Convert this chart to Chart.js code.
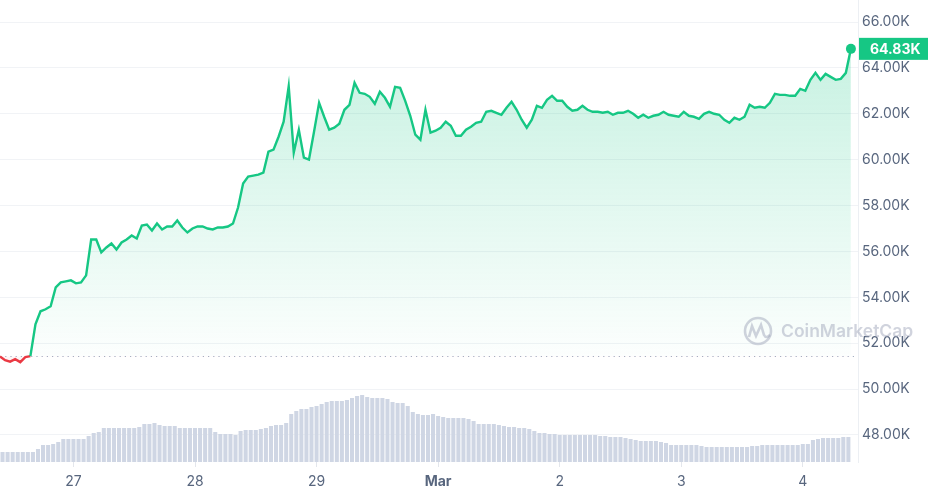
<!DOCTYPE html>
<html>
<head>
<meta charset="utf-8">
<title>BTC 7D</title>
<script src="https://cdn.jsdelivr.net/npm/chart.js@4.4.1/dist/chart.umd.min.js"></script>
<style>
    html, body { margin: 0; padding: 0; background: #fff; }
    #wrap { width: 928px; height: 495px; }
</style>
</head>
<body>
<div id="wrap"><canvas id="priceChart" width="928" height="495"></canvas></div>
<script>
// hours are counted from Feb 27 00:00, one point per hour
const startHour = -14.5;
const volStartHour = -14;
const dayTicks = [0, 24, 48, 72, 96, 120, 144];
const dayLabels = ['27', '28', '29', 'Mar', '2', '3', '4'];
const priceTicks = [48000, 50000, 52000, 54000, 56000, 58000, 60000, 62000, 64000, 66000];

const prices = [
    51422, 51261, 51196, 51305, 51175, 51392, 51435, 52827, 53392, 53479,
    53609, 54435, 54653, 54696, 54740, 54609, 54653, 54957, 56522, 56522,
    55957, 56174, 56348, 56087, 56392, 56522, 56696, 56566, 57131, 57174,
    56913, 57218, 56957, 57087, 57087, 57348, 57044, 56826, 57000, 57087,
    57087, 57000, 56957, 57044, 57044, 57087, 57218, 57914, 58957, 59261,
    59305, 59348, 59435, 60348, 60435, 61000, 61653, 63200, 60305, 61305,
    60087, 60000, 61218, 62479, 61870, 61305, 61392, 61566, 62174, 62392,
    63348, 62914, 62870, 62740, 62435, 62957, 62696, 62305, 63174, 63131,
    62566, 61913, 61087, 60870, 62174, 61174, 61261, 61392, 61653, 61478,
    61044, 61044, 61305, 61435, 61609, 61653, 62087, 62131, 62044, 61957,
    62261, 62522, 62174, 61739, 61392, 61739, 62348, 62261, 62609, 62783,
    62566, 62566, 62305, 62131, 62174, 62348, 62174, 62087, 62087, 62044,
    62087, 61957, 62044, 62044, 62131, 62000, 61826, 61957, 61826, 61913,
    61957, 62087, 61957, 61913, 61870, 62087, 61913, 61870, 61783, 62000,
    62087, 62000, 61957, 61739, 61609, 61826, 61739, 61870, 62392, 62261,
    62305, 62261, 62479, 62870, 62826, 62826, 62783, 62783, 63087, 63000,
    63479, 63783, 63479, 63740, 63609, 63479, 63522, 63783, 64830
];

// rolling 24h volume, relative units
const volumes = [
    10, 10, 10, 10, 10, 10, 10, 13, 17, 17,
    18, 20, 23, 23, 23, 23, 23, 26, 29, 30,
    34, 34, 34, 34, 34, 34, 34, 35, 38, 38,
    39, 37, 36, 36, 36, 34, 34, 34, 34, 34,
    34, 34, 30, 28, 28, 28, 27, 31, 32, 32,
    32, 33, 34, 36, 37, 37, 39, 48, 51, 53,
    53, 55, 56, 58, 60, 61, 61, 61, 62, 64,
    66, 67, 65, 64, 64, 64, 63, 60, 59, 59,
    56, 50, 48, 47, 47, 48, 46, 45, 44, 44,
    44, 44, 43, 41, 38, 38, 38, 38, 37, 36,
    35, 35, 34, 34, 33, 31, 29, 29, 28, 28,
    27, 27, 27, 27, 27, 27, 27, 27, 26, 26,
    25, 25, 25, 24, 23, 22, 21, 21, 21, 21,
    20, 19, 17, 17, 17, 17, 17, 17, 16, 15,
    15, 15, 15, 15, 15, 15, 15, 15, 16, 16,
    17, 17, 17, 17, 17, 17, 17, 17, 18, 18,
    22, 23, 24, 24, 24, 24, 25, 25
];

document.addEventListener('DOMContentLoaded', function() {
    const green = '#16c784';
    const red = '#ea3943';
    const baseline = prices[0];
    const lastPrice = prices[prices.length - 1];
    const xMin = startHour;
    const xMax = 154.9;

    const priceData = prices.map((p, i) => ({ x: startHour + i, y: p }));
    const volData = volumes.map((v, i) => ({ x: volStartHour + i, y: v }));

    const fmtK = v => (v / 1000).toFixed(2) + 'K';

    // no extra room for the outer tick labels
    const noPadding = scale => {
        scale.paddingTop = 0;
        scale.paddingBottom = 0;
        scale.paddingLeft = 0;
        scale.paddingRight = 0;
    };

    // green fill that fades out towards the opening price
    const areaFill = function(context) {
        const chart = context.chart;
        if (!chart.chartArea) return 'rgba(22,199,132,0.1)';
        const yScale = chart.scales.y;
        const top = yScale.getPixelForValue(Math.max(...prices));
        const bottom = yScale.getPixelForValue(baseline);
        const g = chart.ctx.createLinearGradient(0, top, 0, bottom);
        g.addColorStop(0, 'rgba(22,199,132,0.24)');
        g.addColorStop(1, 'rgba(22,199,132,0.01)');
        return g;
    };

    // badge with last price + watermark
    const overlay = {
        id: 'overlay',
        afterDraw(chart) {
            const c = chart.ctx;
            const yScale = chart.scales.y;
            const area = chart.chartArea;
            const py = yScale.getPixelForValue(lastPrice);

            c.save();
            c.fillStyle = green;
            c.fillRect(area.right + 1, py - 11, chart.width - area.right - 1, 22);
            c.fillStyle = '#fff';
            c.font = 'bold 14px Inter';
            c.textBaseline = 'middle';
            c.fillText(fmtK(lastPrice), area.right + 12, py + 1);

            // CoinMarketCap watermark
            c.globalAlpha = 0.5;
            c.strokeStyle = '#a1a7bb';
            c.lineWidth = 2.6;
            c.beginPath();
            c.arc(758, 331, 13, 0, Math.PI * 2);
            c.stroke();
            c.beginPath();
            c.moveTo(749, 337);
            c.lineTo(752, 326);
            c.lineTo(756, 336);
            c.lineTo(761, 325);
            c.lineTo(764, 335);
            c.quadraticCurveTo(766, 339, 770, 335);
            c.stroke();
            c.fillStyle = '#a1a7bb';
            c.font = '600 17.5px Inter';
            c.fillText('CoinMarketCap', 781, 332);
            c.restore();
        }
    };

    new Chart(document.getElementById('priceChart'), {
        data: {
            datasets: [
                {
                    type: 'line',
                    label: 'Price',
                    data: priceData,
                    yAxisID: 'y',
                    borderWidth: 2.4,
                    borderColor: green,
                    backgroundColor: areaFill,
                    fill: { target: { value: baseline }, below: 'rgba(234,57,67,0.05)' },
                    tension: 0,
                    pointRadius: ctx => ctx.dataIndex === prices.length - 1 ? 5 : 0,
                    pointBackgroundColor: green,
                    pointBorderWidth: 0,
                    segment: {
                        borderColor: ctx => (ctx.p0.parsed.y + ctx.p1.parsed.y) / 2 < baseline ? red : green
                    },
                    order: 1
                },
                {
                    type: 'line',
                    label: 'Open',
                    data: [{ x: xMin, y: baseline }, { x: xMax, y: baseline }],
                    yAxisID: 'y',
                    borderColor: '#a6b0c3',
                    borderWidth: 1.2,
                    borderDash: [1.2, 4],
                    pointRadius: 0,
                    fill: false,
                    order: 2
                },
                {
                    type: 'bar',
                    label: 'Volume',
                    data: volData,
                    yAxisID: 'yv',
                    backgroundColor: '#cfd6e4',
                    barPercentage: 0.8,
                    categoryPercentage: 1,
                    order: 3
                }
            ]
        },
        options: {
            responsive: false,
            animation: false,
            layout: { padding: 0, autoPadding: false },
            plugins: {
                legend: { display: false },
                tooltip: { enabled: false }
            },
            scales: {
                x: {
                    type: 'linear',
                    offset: false,
                    min: xMin,
                    max: xMax,
                    afterBuildTicks: scale => {
                        scale.ticks = dayTicks.map(v => ({ value: v }));
                    },
                    afterFit: scale => {
                        scale.height = 33;
                        noPadding(scale);
                    },
                    ticks: {
                        autoSkip: false,
                        maxRotation: 0,
                        padding: 6,
                        color: '#58667e',
                        callback: (value, index) => dayLabels[index],
                        font: ctx => ({
                            family: 'Inter',
                            size: 14,
                            weight: dayLabels[ctx.index] === 'Mar' ? 'bold' : 'normal'
                        })
                    },
                    grid: {
                        offset: false,
                        drawOnChartArea: false,
                        drawTicks: true,
                        tickLength: 5,
                        color: '#e3e6ec'
                    },
                    border: { display: false }
                },
                y: {
                    position: 'right',
                    min: 46823,
                    max: 66959,
                    afterBuildTicks: scale => {
                        scale.ticks = priceTicks.map(v => ({ value: v }));
                    },
                    afterFit: scale => {
                        scale.width = 70;
                        noPadding(scale);
                    },
                    ticks: {
                        padding: 4,
                        color: '#58667e',
                        font: { family: 'Inter', size: 14 },
                        callback: v => fmtK(v)
                    },
                    grid: {
                        drawTicks: false,
                        color: '#f1f3f6'
                    },
                    border: { display: true, color: '#eceff3' }
                },
                yv: {
                    display: false,
                    min: 0,
                    max: 462
                }
            }
        },
        plugins: [overlay]
    });
});
</script>
</body>
</html>
